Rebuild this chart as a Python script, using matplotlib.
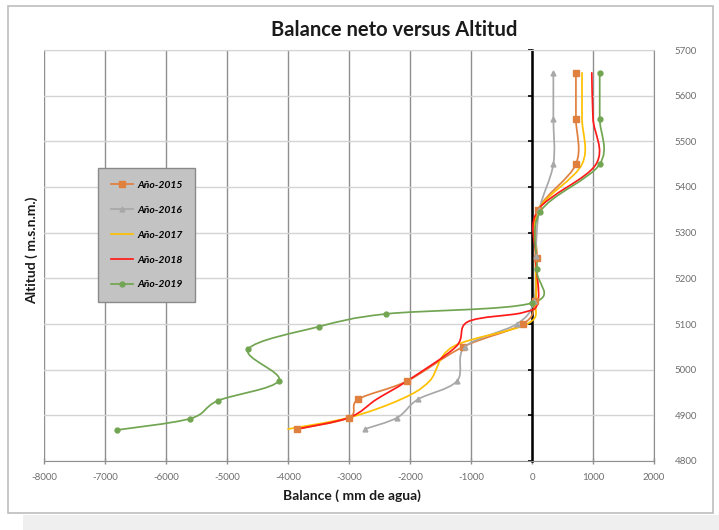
import numpy as np
import matplotlib
matplotlib.use("Agg")
import matplotlib.pyplot as plt
from matplotlib.path import Path
from matplotlib.patches import PathPatch, Rectangle
from matplotlib.lines import Line2D

plt.rcParams["font.family"] = ["Lato", "DejaVu Sans"]
plt.rcParams["axes.unicode_minus"] = False

# values (balance in mm w.e., altitude in m)
alt_2015 = [4870, 4895, 4935, 4975, 5050, 5100, 5150, 5245, 5350, 5450, 5550, 5650]
bal_2015 = [-3850, -3000, -2850, -2050, -1130, -150, 50, 80, 100, 720, 720, 720]

alt_2016 = [4870, 4895, 4935, 4975, 5050, 5100, 5150, 5250, 5350, 5450, 5550, 5650]
bal_2016 = [-2740, -2210, -1870, -1230, -1100, -250, 30, 60, 120, 350, 350, 350]

alt_2017 = [4870, 4895, 4935, 4975, 5050, 5100, 5150, 5250, 5350, 5450, 5550, 5650]
bal_2017 = [-4000, -3000, -2150, -1680, -1300, -80, 60, 60, 100, 820, 820, 820]

alt_2018 = [4870, 4895, 4935, 4975, 5050, 5105, 5125, 5150, 5250, 5350, 5450, 5550, 5650]
bal_2018 = [-3850, -3000, -2550, -2050, -1250, -1050, -150, 100, 60, 100, 1050, 1000, 980]

alt_2019 = [4868, 4893, 4932, 4976, 5045, 5094, 5122, 5146, 5220, 5345, 5450, 5550, 5650]
bal_2019 = [-6800, -5600, -5150, -4150, -4650, -3500, -2400, 0, 80, 130, 1110, 1110, 1110]

labels = ["Año-2015", "Año-2016", "Año-2017", "Año-2018", "Año-2019"]
colors = ["#e0803e", "#a8a8a8", "#ffc000", "#ff1a1a", "#72a552"]
markers = ["s", "^", None, None, "o"]
msizes = [4, 3.5, 0, 0, 3.5]

series = [(bal_2015, alt_2015), (bal_2016, alt_2016), (bal_2017, alt_2017),
          (bal_2018, alt_2018), (bal_2019, alt_2019)]

x_ticks = list(range(-8000, 2001, 1000))
y_ticks = list(range(4800, 5701, 100))


def smooth_path(xs, ys, sx, sy):
    # Excel-like smoothed line: Catmull-Rom turned into cubic Bezier segments,
    # computed in pixel-like space so both axes bend the same way
    p = np.column_stack([np.asarray(xs, float) * sx, np.asarray(ys, float) * sy])
    n = len(p)
    verts = [p[0]]
    codes = [Path.MOVETO]
    for i in range(n - 1):
        p0 = p[i - 1] if i > 0 else p[i]
        p3 = p[i + 2] if i + 2 < n else p[i + 1]
        c1 = p[i] + (p[i + 1] - p0) / 6.0
        c2 = p[i + 1] - (p3 - p[i]) / 6.0
        verts += [c1, c2, p[i + 1]]
        codes += [Path.CURVE4] * 3
    verts = np.array(verts)
    verts[:, 0] /= sx
    verts[:, 1] /= sy
    return Path(verts, codes)


fig = plt.figure(figsize=(7.19, 5.30), dpi=100)
W, H = 719, 530

# outer chart frame and the grey strip below it
fig.patches.append(Rectangle((8 / W, 1 - 513 / H), 705 / W, 507 / H, transform=fig.transFigure,
                             facecolor="white", edgecolor="#bdbdbd", lw=1.2, zorder=-5))
fig.patches.append(Rectangle((23 / W, 0), 1, 15 / H, transform=fig.transFigure,
                             facecolor="#efefef", edgecolor="none", zorder=-5))

ax = fig.add_axes([44 / W, 1 - 461 / H, 610 / W, 411 / H])
ax.set_zorder(1)
ax.set_facecolor("none")
ax.set_xlim(-8000, 2000)
ax.set_ylim(4800, 5700)
ax.set_xticks(x_ticks)
ax.set_yticks(y_ticks)

ax.xaxis.grid(True, color="#8f8f8f", lw=1.0, zorder=0)
ax.yaxis.grid(True, color="#d4d4d4", lw=1.0, zorder=0)
ax.set_axisbelow(True)

# vertical axis crosses at 0, labels on the right
ax.spines["left"].set_position(("data", 0))
ax.spines["left"].set_color("black")
ax.spines["left"].set_linewidth(1.8)
ax.spines["left"].set_zorder(2)
ax.spines["right"].set_color("#8f8f8f")
ax.spines["top"].set_color("#d4d4d4")
ax.spines["bottom"].set_color("#8f8f8f")
ax.tick_params(axis="y", left=True, right=False, labelleft=False, labelright=True,
               direction="out", length=3, width=1.2, color="black", pad=12,
               labelsize=7, labelcolor="#6e6e6e")
ax.tick_params(axis="x", direction="inout", length=5, width=1, color="#8f8f8f",
               labelsize=7, labelcolor="#6e6e6e", pad=6)

sx, sy = 610 / 10000, 411 / 900
for (xs, ys), col, mk, ms, lab in zip(series, colors, markers, msizes, labels):
    ax.add_patch(PathPatch(smooth_path(xs, ys, sx, sy), fill=False, edgecolor=col,
                           lw=1.25, zorder=3, capstyle="round"))
    if mk:
        ax.plot(xs, ys, ls="none", marker=mk, ms=ms, color=col, zorder=4)

handles = [Line2D([], [], color=c, lw=1.25, marker=m if m else None, ms=s)
           for c, m, s in zip(colors, markers, msizes)]
leg = fig.legend(handles, labels, loc="upper left", bbox_to_anchor=(98 / W, 1 - 168 / H),
                 bbox_transform=fig.transFigure, frameon=True, fancybox=False,
                 borderaxespad=0, handlelength=2.2, labelspacing=1.5, borderpad=1.2,
                 handletextpad=0.35,
                 prop={"size": 7.5, "weight": "bold", "style": "italic"})
leg.set_zorder(10)
leg.get_frame().set_facecolor("#c3c3c3")
leg.get_frame().set_edgecolor("#8a8a8a")
leg.get_frame().set_alpha(1)

fig.text(394 / W, 1 - 30 / H, "Balance neto versus Altitud", ha="center", va="center",
         fontsize=14.5, fontweight="bold", color="#1a1a1a")
fig.text(352 / W, 1 - 496 / H, "Balance ( mm de agua)", ha="center", va="center",
         fontsize=10, fontweight="bold", color="#1a1a1a")
fig.text(32 / W, 1 - 250 / H, "Altitud ( m.s.n.m.)", ha="center", va="center",
         rotation=90, fontsize=10, fontweight="bold", color="#1a1a1a")

fig.savefig("out.png", dpi=100)
